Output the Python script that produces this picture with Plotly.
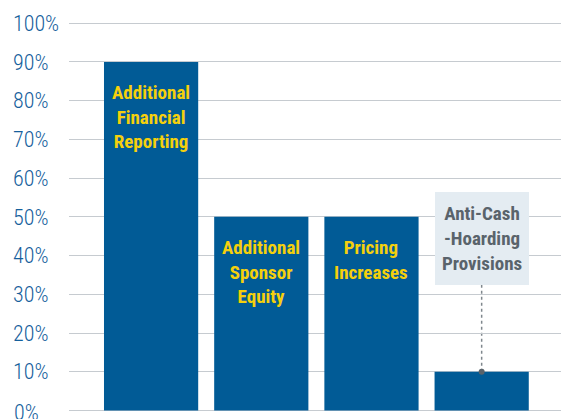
import plotly.graph_objects as go

categories = ["Additional Financial Reporting", "Additional Sponsor Equity",
              "Pricing Increases", "Anti-Cash-Hoarding Provisions"]
values = [0.90, 0.50, 0.50, 0.10]
bar_labels = ["Additional<br>Financial<br>Reporting", "Additional<br>Sponsor<br>Equity",
              "Pricing<br>Increases", "Anti-Cash<br>-Hoarding<br>Provisions"]
tick_vals = [0, 0.1, 0.2, 0.3, 0.4, 0.5, 0.6, 0.7, 0.8, 0.9, 1.0]
tick_text = ["0%", "10%", "20%", "30%", "40%", "50%", "60%", "70%", "80%", "90%", "100%"]

BAR = "#015B96"
YEL = "#F5D00C"
TICK = "#15609C"
FONT = "Roboto Condensed, DejaVu Sans Condensed, sans-serif"

x_idx = list(range(len(categories)))

fig = go.Figure()
fig.add_trace(go.Bar(x=x_idx, y=values, marker_color=BAR, marker_line_width=0,
                     width=0.855, hoverinfo="skip"))
# dot on the small bar
fig.add_trace(go.Scatter(x=[x_idx[3]], y=[values[3]], mode="markers",
                         marker=dict(color="#59636B", size=6), hoverinfo="skip"))

annotations = []
for i in range(3):
    annotations.append(dict(x=x_idx[i], y=values[i], xref="x", yref="y",
                            text=bar_labels[i], showarrow=False,
                            yanchor="top", yshift=-17,
                            font=dict(family=FONT, size=19, color=YEL, weight="bold")))
annotations.append(dict(x=x_idx[3], y=values[3], xref="x", yref="y",
                        text=bar_labels[3], showarrow=False,
                        yanchor="bottom", yshift=87, width=94, height=93,
                        bgcolor="#E4ECF2", borderpad=0, borderwidth=0,
                        font=dict(family=FONT, size=19, color="#59636B", weight="bold")))
# bottom tick label (clipped by the page edge, as in the original)
annotations.append(dict(x=12 / 561, y=tick_vals[0], xref="paper", yref="y",
                        text=tick_text[0], showarrow=False, xanchor="left",
                        yanchor="middle", yshift=-2,
                        font=dict(family=FONT, size=22, color=TICK, weight=300)))

shapes = [dict(type="line", xref="x", yref="y", x0=x_idx[3], x1=x_idx[3],
               ysizemode="pixel", yanchor=values[3], y0=0, y1=87,
               line=dict(color="#7F878D", width=1.5, dash="dot"), layer="below")]

fig.update_layout(
    width=561, height=419,
    margin=dict(l=0, r=0, t=0, b=0),
    plot_bgcolor="white", paper_bgcolor="white",
    showlegend=False,
    annotations=annotations, shapes=shapes,
    xaxis=dict(domain=[69 / 561, 1], range=[-0.745, 3.72], showgrid=False,
               showticklabels=False, zeroline=False, showline=False,
               tickvals=x_idx),
    yaxis=dict(range=[-0.022, 1.060], anchor="free", position=9 / 561,
               tickvals=tick_vals[1:], ticktext=tick_text[1:],
               ticklabelposition="inside", ticks="",
               showgrid=True, gridcolor="#C6CBD0", gridwidth=1.3,
               zeroline=True, zerolinecolor="#C6CBD0", zerolinewidth=1.3,
               tickfont=dict(family=FONT, size=22, color=TICK, weight=300)),
)

fig.write_html("out.html", config={"displayModeBar": False},
               post_script="document.body.style.margin='0';")
